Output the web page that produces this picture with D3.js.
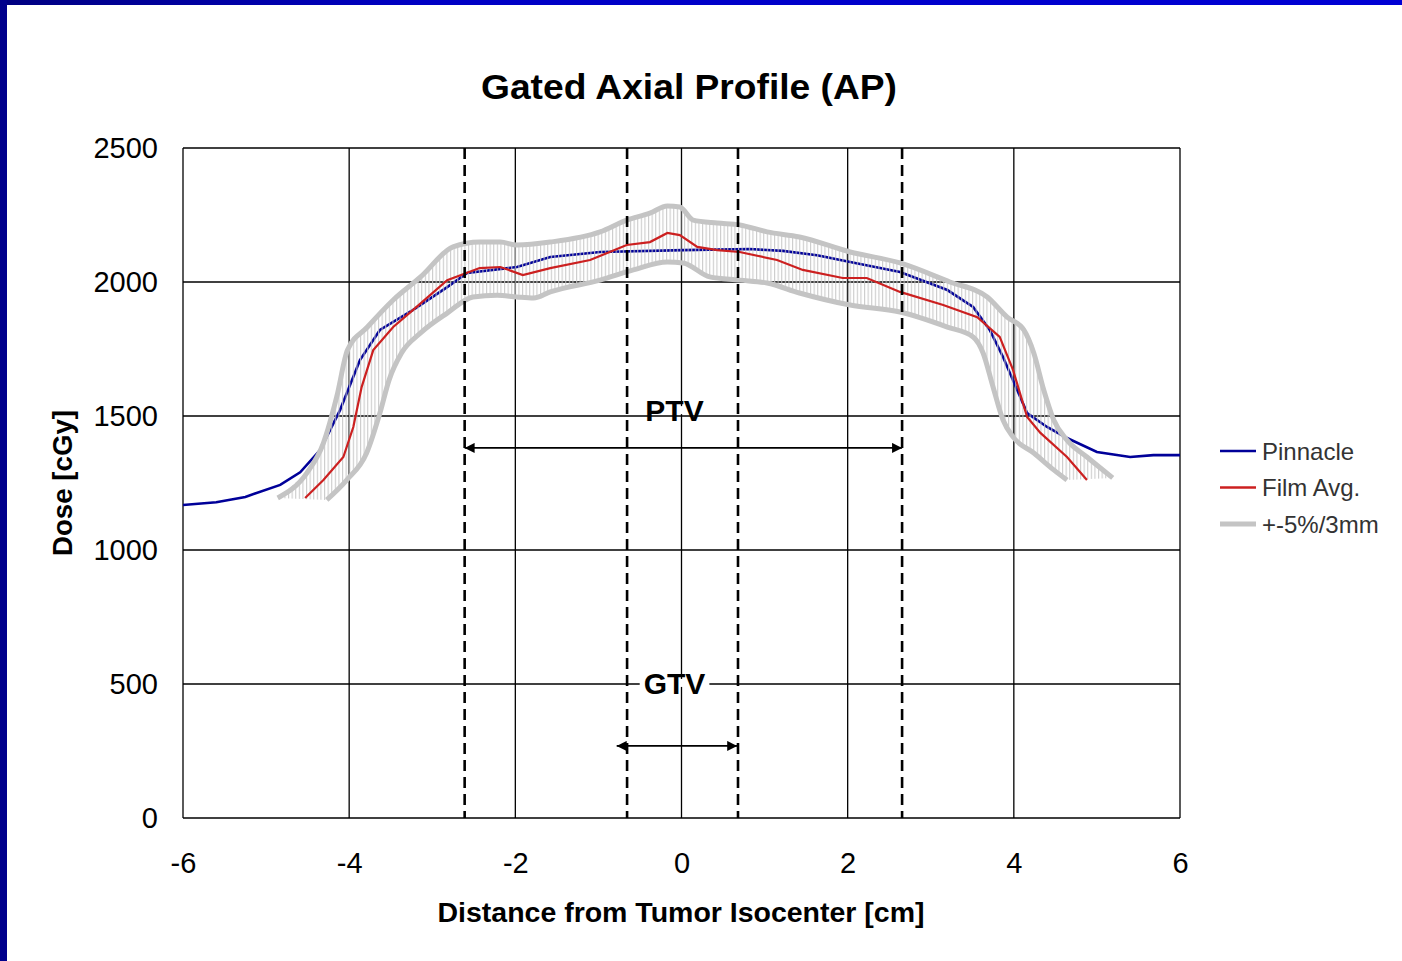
<!DOCTYPE html>
<html><head><meta charset="utf-8">
<script src="https://cdn.jsdelivr.net/npm/d3@7"></script>
<style>html,body{margin:0;padding:0;background:#fff;}svg{display:block;}</style>
</head><body>
<script>
// ---- data ----
const title = "Gated Axial Profile (AP)";
const xTitle = "Distance from Tumor Isocenter [cm]";
const yTitle = "Dose [cGy]";
const xTicks = [-6, -4, -2, 0, 2, 4, 6];
const yTicks = [0, 500, 1000, 1500, 2000, 2500];
const pinnacle = [[-6.0,1168],[-5.6,1178],[-5.25,1198],[-4.83,1243],[-4.59,1290],[-4.35,1373],[-4.11,1522],[-3.87,1709],[-3.63,1821],[-3.23,1896],[-2.82,1981],[-2.58,2034],[-1.98,2056],[-1.58,2093],[-0.98,2112],[0.02,2119],[0.82,2123],[1.22,2116],[1.63,2100],[2.03,2075],[2.63,2037],[3.20,1970],[3.51,1907],[3.71,1821],[3.87,1720],[4.04,1597],[4.16,1511],[4.40,1459],[4.64,1418],[5.00,1366],[5.40,1347],[5.68,1354],[6.0,1354]];
const filmAvg = [[-4.53,1194],[-4.31,1261],[-4.07,1347],[-3.95,1459],[-3.85,1608],[-3.71,1746],[-3.47,1832],[-3.23,1896],[-2.82,2007],[-2.43,2052],[-2.18,2056],[-1.91,2026],[-1.58,2052],[-1.10,2082],[-0.66,2138],[-0.38,2149],[-0.17,2183],[-0.02,2175],[0.19,2131],[0.43,2119],[0.70,2112],[1.15,2082],[1.46,2045],[1.94,2015],[2.23,2015],[2.63,1963],[3.15,1914],[3.56,1869],[3.83,1795],[3.99,1672],[4.16,1496],[4.32,1437],[4.64,1347],[4.88,1261]];
const bandUpper = [[-4.86,1194],[-4.51,1287],[-4.31,1399],[-4.15,1571],[-4.02,1746],[-3.78,1832],[-3.47,1933],[-3.14,2019],[-2.75,2131],[-2.43,2149],[-2.18,2149],[-1.98,2138],[-1.58,2149],[-0.98,2187],[-0.66,2231],[-0.38,2257],[-0.17,2284],[-0.02,2280],[0.14,2231],[0.43,2220],[0.70,2213],[1.03,2187],[1.42,2168],[2.03,2112],[2.63,2071],[3.23,2000],[3.68,1944],[3.92,1869],[4.12,1821],[4.24,1735],[4.36,1597],[4.48,1485],[4.64,1410],[4.88,1347],[5.19,1269]];
const bandLower = [[-4.27,1187],[-4.03,1261],[-3.79,1362],[-3.63,1511],[-3.52,1634],[-3.37,1735],[-3.14,1810],[-2.82,1884],[-2.51,1944],[-2.22,1951],[-1.98,1944],[-1.78,1940],[-1.58,1963],[-0.98,2007],[-0.58,2045],[-0.17,2075],[0.02,2071],[0.34,2019],[0.70,2007],[1.03,1996],[1.42,1959],[2.03,1914],[2.63,1888],[3.20,1832],[3.51,1795],[3.63,1735],[3.75,1608],[3.87,1485],[3.99,1422],[4.24,1362],[4.48,1299],[4.64,1261]];
const dashedX = [-2.61, -0.655, 0.68, 2.655];
const ptv = {label:"PTV", from:-2.61, to:2.655, arrowY:1381, labelY:1522};
const gtv = {label:"GTV", from:-0.78, to:0.67, arrowY:269, labelY:504};
const legendItems = ["Pinnacle", "Film Avg.", "+-5%/3mm"];
const legendColors = ["#000099", "#cc2020", "#c4c4c4"];

// ---- drawing ----
const W = 1402, H = 961;
const svg = d3.select("body").append("svg").attr("width", W).attr("height", H);
const defs = svg.append("defs");
const grad = defs.append("linearGradient").attr("id","bord").attr("x1","0").attr("x2","1");
grad.append("stop").attr("offset","0").attr("stop-color","#000080");
grad.append("stop").attr("offset","0.3").attr("stop-color","#0000c4");
grad.append("stop").attr("offset","1").attr("stop-color","#0000d4");
const pat = defs.append("pattern").attr("id","hatch").attr("patternUnits","userSpaceOnUse")
  .attr("width",3.6).attr("height",10);
pat.append("line").attr("x1",0.6).attr("x2",0.6).attr("y1",0).attr("y2",10)
  .attr("stroke","#c6c6c6").attr("stroke-width",1);

svg.append("rect").attr("width",W).attr("height",H).attr("fill","#fff");
svg.append("rect").attr("x",0).attr("y",0).attr("width",W).attr("height",5).attr("fill","url(#bord)");
svg.append("rect").attr("x",0).attr("y",0).attr("width",7).attr("height",H).attr("fill","#00008c");

const x = d3.scaleLinear().domain([-6,6]).range([183,1180]);
const y = d3.scaleLinear().domain([0,2500]).range([818,148]);
const font = "'Liberation Sans', Arial, sans-serif";

// grid
const g = svg.append("g");
g.selectAll(".gx").data(xTicks).enter().append("line")
  .attr("x1",d=>x(d)).attr("x2",d=>x(d)).attr("y1",y(0)).attr("y2",y(2500))
  .attr("stroke","#000").attr("stroke-width",1.3);
g.selectAll(".gy").data(yTicks).enter().append("line")
  .attr("x1",x(-6)).attr("x2",x(6)).attr("y1",d=>y(d)).attr("y2",d=>y(d))
  .attr("stroke","#000").attr("stroke-width",1.3);

// axes tick labels
const xAxis = d3.axisBottom(x).tickValues(xTicks).tickSize(0).tickPadding(0).tickFormat(d=>String(d));
const xa = svg.append("g").attr("transform",`translate(0,${y(0)})`).call(xAxis);
xa.select(".domain").remove();
xa.selectAll("text").attr("font-family",font).attr("font-size",29).attr("fill","#000")
  .attr("y",55).attr("dy","0");
const yAxis = d3.axisLeft(y).tickValues(yTicks).tickSize(0).tickPadding(25).tickFormat(d=>String(d));
const ya = svg.append("g").attr("transform",`translate(${x(-6)},0)`).call(yAxis);
ya.select(".domain").remove();
ya.selectAll("text").attr("font-family",font).attr("font-size",29).attr("fill","#000");

// pinnacle line
const line = d3.line().x(d=>x(d[0])).y(d=>y(d[1]));
svg.append("path").datum(pinnacle).attr("d",line).attr("fill","none")
  .attr("stroke","#000099").attr("stroke-width",2.6);

// band
const poly = bandUpper.concat(bandLower.slice().reverse());
svg.append("path").attr("d", line(poly)+"Z").attr("fill","url(#hatch)");
const smooth = d3.line().x(d=>x(d[0])).y(d=>y(d[1])).curve(d3.curveMonotoneX);
[bandUpper, bandLower].forEach(b=>{
  svg.append("path").datum(b).attr("d",smooth).attr("fill","none")
    .attr("stroke","#c4c4c4").attr("stroke-width",5).attr("stroke-linejoin","round");
});

// film average
svg.append("path").datum(filmAvg).attr("d",line).attr("fill","none")
  .attr("stroke","#cc2020").attr("stroke-width",2.2);

// dashed lines
svg.selectAll(".dash").data(dashedX).enter().append("line")
  .attr("x1",d=>x(d)).attr("x2",d=>x(d)).attr("y1",y(2500)).attr("y2",y(0))
  .attr("stroke","#000").attr("stroke-width",2.6).attr("stroke-dasharray","11,6");

// arrows
const m = defs.append("marker").attr("id","arr").attr("viewBox","0 0 10 10")
  .attr("refX",10).attr("refY",5).attr("markerWidth",14).attr("markerHeight",10)
  .attr("markerUnits","userSpaceOnUse").attr("orient","auto-start-reverse");
m.append("path").attr("d","M0,0 L10,5 L0,10 Z").attr("fill","#000");

[ptv, gtv].forEach(a=>{
  svg.append("line").attr("x1",x(a.from)).attr("x2",x(a.to)).attr("y1",y(a.arrowY)).attr("y2",y(a.arrowY))
    .attr("stroke","#000").attr("stroke-width",1.6)
    .attr("marker-start","url(#arr)").attr("marker-end","url(#arr)");
  const lg = svg.append("g");
  const cx = (x(-0.655)+x(0.68))/2 - 8;
  const bg = lg.append("rect");
  const t = lg.append("text").attr("x",cx).attr("y",y(a.labelY)).attr("dy","0.36em")
    .attr("text-anchor","middle").attr("font-family",font).attr("font-weight","bold")
    .attr("font-size",30).text(a.label);
  const bb = t.node().getBBox();
  bg.attr("x",bb.x-4).attr("y",y(a.labelY)-4).attr("width",bb.width+8).attr("height",8).attr("fill","#fff");
});

// title and axis titles
svg.append("text").attr("x",689).attr("y",99).attr("text-anchor","middle")
  .attr("font-family",font).attr("font-weight","bold").attr("font-size",35)
  .attr("textLength",416).attr("lengthAdjust","spacingAndGlyphs").text(title);
svg.append("text").attr("x",681).attr("y",922).attr("text-anchor","middle")
  .attr("font-family",font).attr("font-weight","bold").attr("font-size",28)
  .attr("textLength",487).attr("lengthAdjust","spacingAndGlyphs").text(xTitle);
svg.append("text").attr("transform","translate(72,483) rotate(-90)").attr("text-anchor","middle")
  .attr("font-family",font).attr("font-weight","bold").attr("font-size",27)
  .attr("textLength",146).attr("lengthAdjust","spacingAndGlyphs").text(yTitle);

// legend
const lgd = svg.append("g");
legendItems.forEach((name,i)=>{
  const yy = 451 + i*36.5;
  lgd.append("line").attr("x1",1220).attr("x2",1256).attr("y1",yy).attr("y2",yy)
    .attr("stroke",legendColors[i]).attr("stroke-width", i===2?5:2.6);
  lgd.append("text").attr("x",1262).attr("y",yy).attr("dy","0.36em")
    .attr("font-family",font).attr("font-size",24).attr("fill","#333").text(name);
});
</script>
</body></html>
